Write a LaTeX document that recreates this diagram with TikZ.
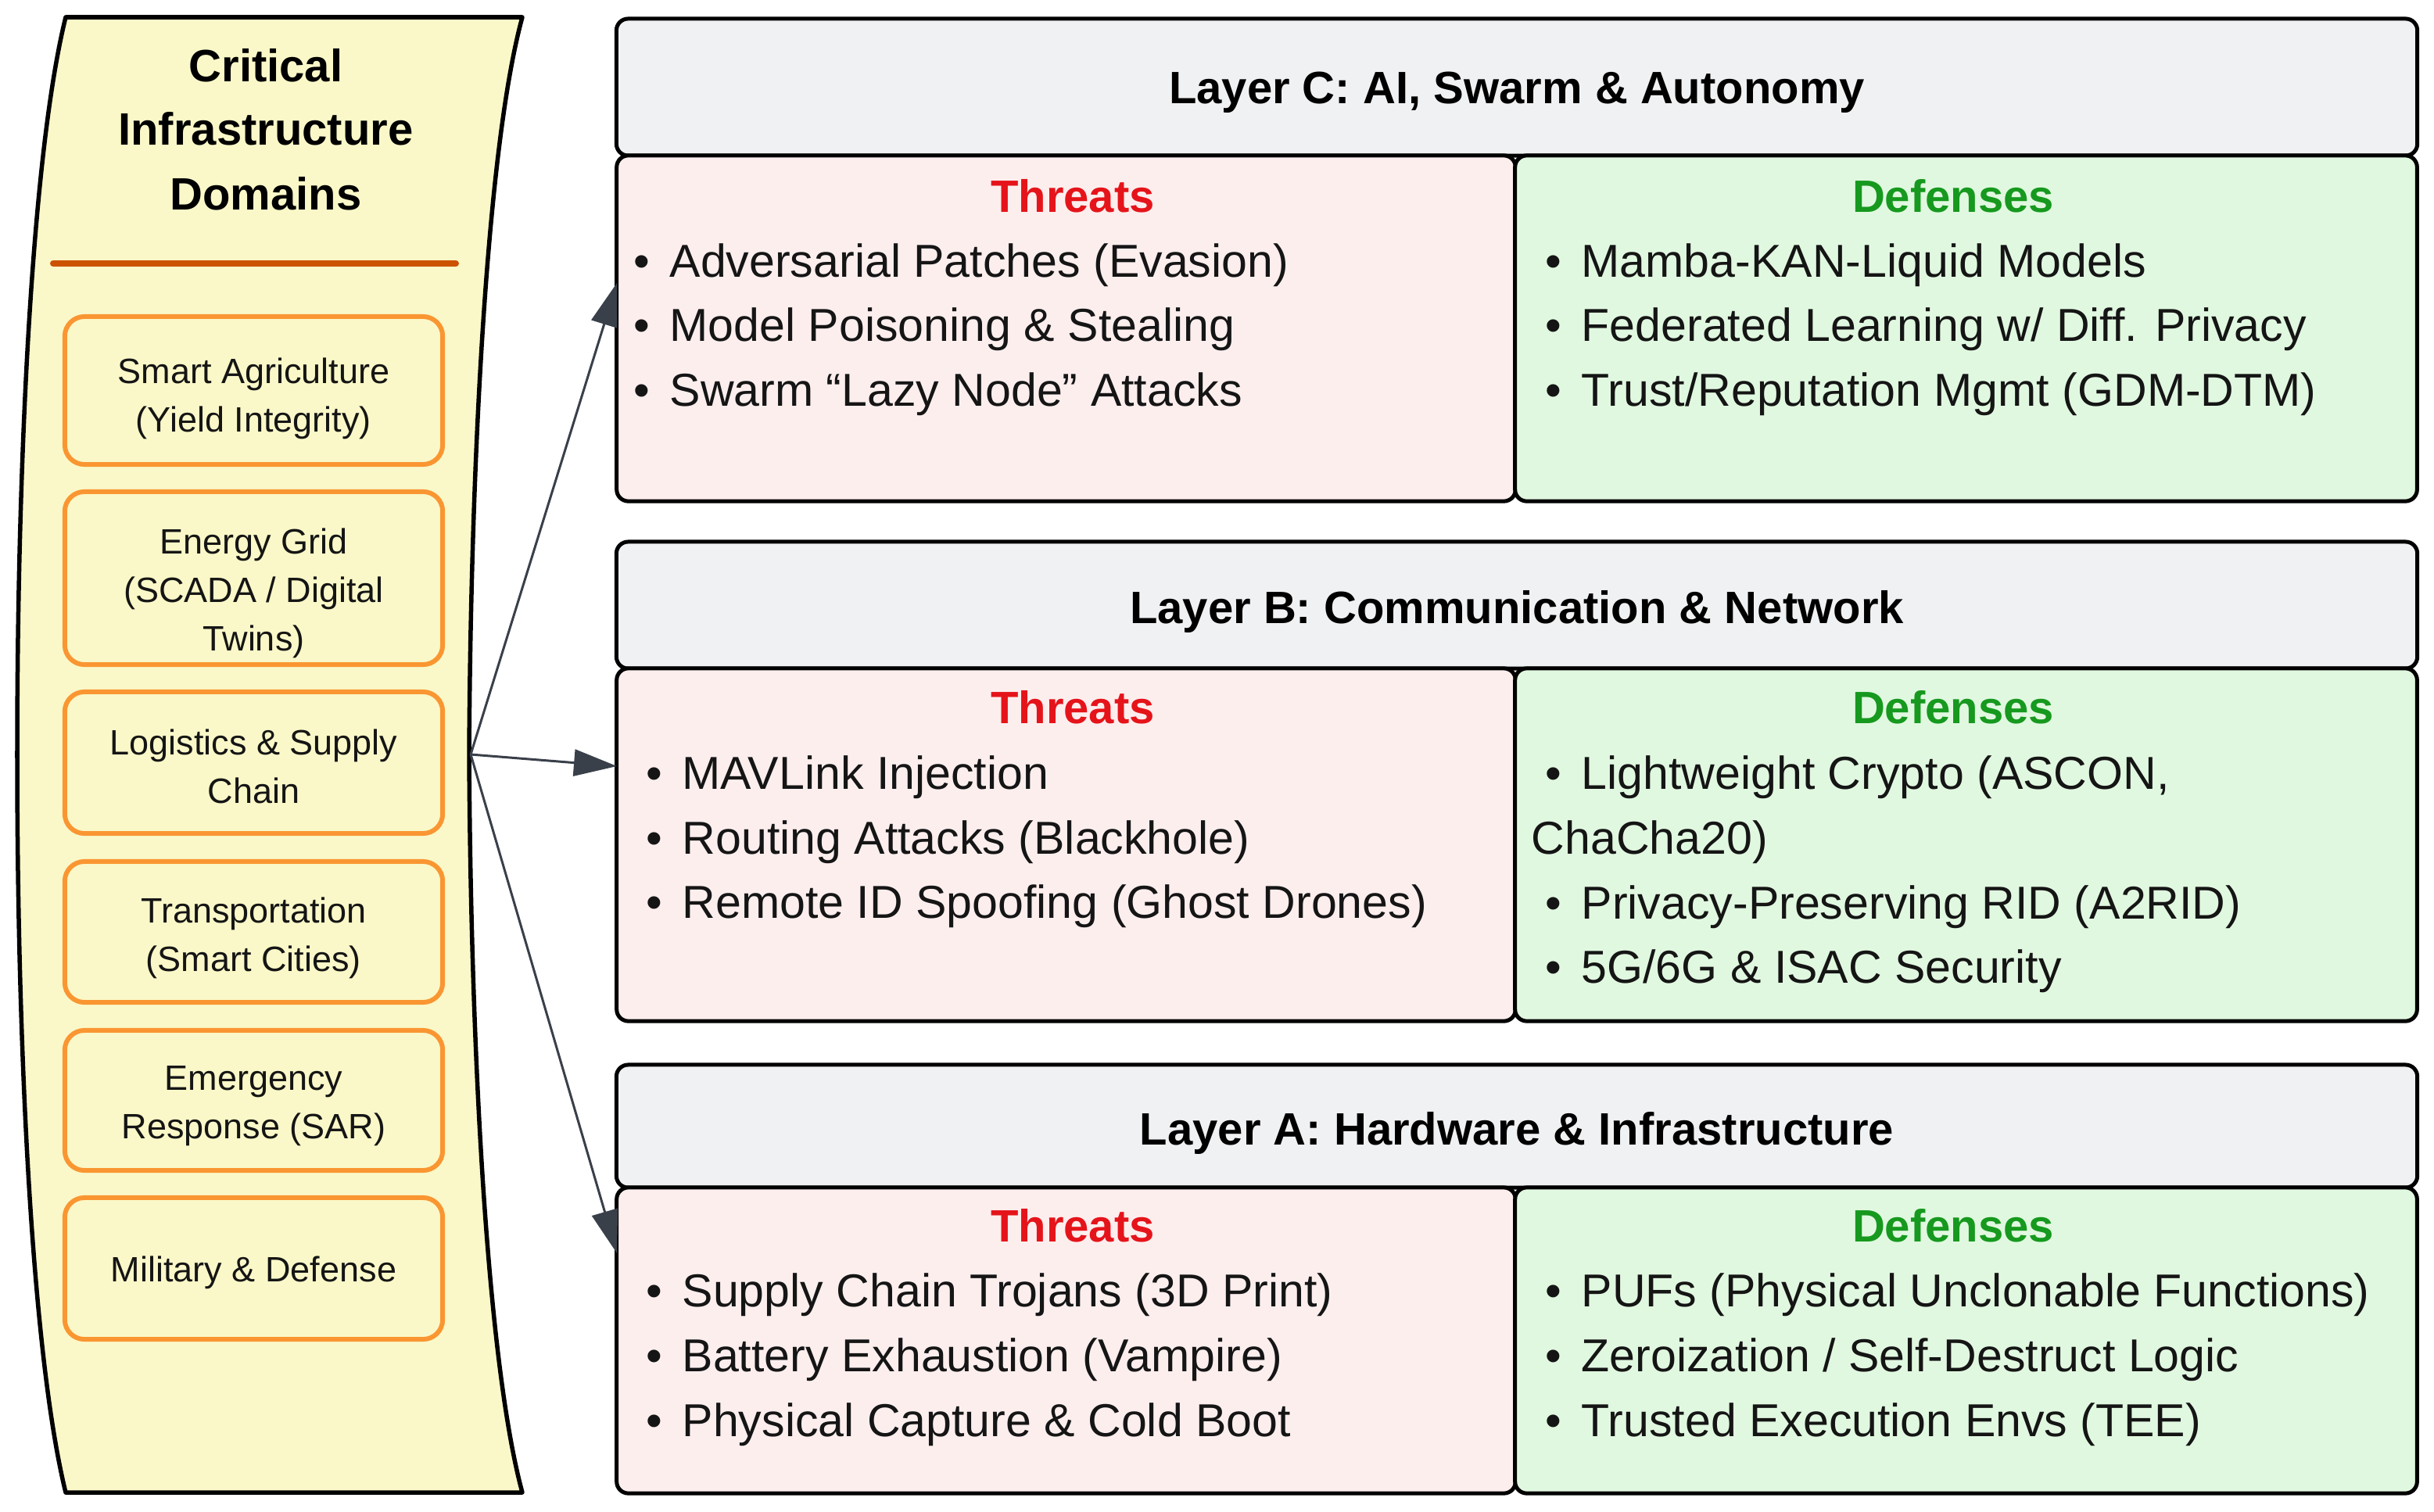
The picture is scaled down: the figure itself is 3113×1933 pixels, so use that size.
\documentclass[tikz,border=0pt]{standalone}
\usepackage{fontspec}
\setmainfont{Liberation Sans}
\usetikzlibrary{arrows.meta}
\definecolor{scrollfill}{HTML}{FAF8C8}
\definecolor{domorange}{HTML}{FA9632}
\definecolor{sepcol}{HTML}{CC5200}
\definecolor{hdrgray}{HTML}{F0F1F3}
\definecolor{thrpink}{HTML}{FDEEEE}
\definecolor{defgreen}{HTML}{E1F8E0}
\definecolor{thrred}{HTML}{E5141A}
\definecolor{defgreentxt}{HTML}{16991E}
\definecolor{arrowgray}{HTML}{3A404A}
\definecolor{bodytxt}{HTML}{151515}
\newcommand\bigfont{\fontsize{16.8pt}{23.6pt}\selectfont}
\newcommand\boldfont{\fontsize{16.5pt}{23.6pt}\selectfont\bfseries}
\newcommand\domfont{\fontsize{12.8pt}{17.64pt}\selectfont}
\newcommand\bul{\makebox[0pt][r]{\textbullet\hspace{0.256cm}}}
\begin{document}
\begin{tikzpicture}[x=0.01cm,y=-0.01cm,
  scroll/.style={draw=black, line width=0.055cm, fill=scrollfill, line join=round},
  dombox/.style={draw=domorange, line width=0.06cm, rounded corners=0.25cm, fill=scrollfill, inner sep=0, minimum width=4.83cm},
  domtxt/.style={align=center, font=\domfont, text=bodytxt, inner sep=0},
  titletxt/.style={anchor=base, font=\boldfont, text=black, inner sep=0},
  hdrbox/.style={draw=black, line width=0.05cm, rounded corners=0.15cm, fill=hdrgray, inner sep=0, minimum width=23.02cm},
  thrbox/.style={draw=black, line width=0.05cm, rounded corners=0.15cm, fill=thrpink, inner sep=0, minimum width=11.49cm},
  defbox/.style={draw=black, line width=0.05cm, rounded corners=0.15cm, fill=defgreen, inner sep=0, minimum width=11.53cm},
  hdrtxt/.style={anchor=base, font=\boldfont, text=black, inner sep=0},
  thrtitle/.style={anchor=base, font=\boldfont, text=thrred, inner sep=0},
  deftitle/.style={anchor=base, font=\boldfont, text=defgreentxt, inner sep=0},
  entry/.style={anchor=base west, font=\bigfont, text=bodytxt, inner sep=0},
  link/.style={draw=arrowgray, line width=0.03cm, -{Triangle[length=0.55cm,width=0.34cm]}},
  sepline/.style={draw=sepcol, line width=0.08cm, line cap=round}
]
\useasboundingbox (0,0) rectangle (3113,1933);
\fill[white] (0,0) rectangle (3113,1933);

% ---------- left scroll ----------
\path[scroll] (84,22) -- (668,22) .. controls (622,190) and (602,600) .. (600,965)
  .. controls (602,1330) and (622,1740) .. (668,1909) -- (84,1909)
  .. controls (40,1730) and (22,1330) .. (22,965)
  .. controls (22,600) and (40,200) .. cycle;
\coordinate (src) at (602,965);

\node[titletxt] (ttl1) at (340,104) {Critical};
\node[titletxt] (ttl2) at (340,185) {Infrastructure};
\node[titletxt] (ttl3) at (340,268) {Domains};
\coordinate (sepL) at (68,337);
\coordinate (sepR) at (583,337);
\draw[sepline] (sepL) -- (sepR);

\node[dombox, minimum height=1.89cm] (d1) at (324.5,499.5) {};
\node[domtxt] (d1t) at (324.5,510) {Smart Agriculture\\(Yield Integrity)};
\node[dombox, minimum height=2.21cm] (d2) at (324.5,739.5) {};
\node[domtxt] (d2t) at (324.5,759) {Energy Grid\\(SCADA / Digital\\Twins)};
\node[dombox, minimum height=1.81cm] (d3) at (324.5,975.5) {};
\node[domtxt] (d3t) at (324.5,980) {Logistics \& Supply\\Chain};
\node[dombox, minimum height=1.80cm] (d4) at (324.5,1192) {};
\node[domtxt] (d4t) at (324.5,1200) {Transportation\\(Smart Cities)};
\node[dombox, minimum height=1.79cm] (d5) at (324.5,1407.5) {};
\node[domtxt] (d5t) at (324.5,1415) {Emergency\\Response (SAR)};
\node[dombox, minimum height=1.81cm] (d6) at (324.5,1622.5) {};
\node[domtxt] (d6t) at (324.5,1628) {Military \& Defense};

% ---------- Layer C ----------
\node[hdrbox, minimum height=1.75cm] (hC) at (1940,111.5) {};
\node[thrbox, minimum height=4.42cm] (tC) at (1363.5,420) {};
\node[defbox, minimum height=4.42cm] (fC) at (2514.5,420) {};
\node[hdrtxt] (hCt) at (1940,132) {Layer C: AI, Swarm \& Autonomy};
\node[thrtitle] (tCt) at (1372,271) {Threats};
\node[deftitle] (fCt) at (2498,271) {Defenses};
\node[entry] (tC1) at (856,354) {\bul Adversarial Patches (Evasion)};
\node[entry] (tC2) at (856,436) {\bul Model Poisoning \& Stealing};
\node[entry] (tC3) at (856,519) {\bul Swarm “Lazy Node” Attacks};
\node[entry] (fC1) at (2022,354) {\bul Mamba-KAN-Liquid Models};
\node[entry] (fC2) at (2022,436) {\bul Federated Learning w/ Diff. Privacy};
\node[entry] (fC3) at (2022,519) {\bul Trust/Reputation Mgmt (GDM-DTM)};

% ---------- Layer B ----------
\node[hdrbox, minimum height=1.62cm] (hB) at (1940,774) {};
\node[thrbox, minimum height=4.51cm] (tB) at (1363.5,1080.5) {};
\node[defbox, minimum height=4.51cm] (fB) at (2514.5,1080.5) {};
\node[hdrtxt] (hBt) at (1940,797) {Layer B: Communication \& Network};
\node[thrtitle] (tBt) at (1372,925) {Threats};
\node[deftitle] (fBt) at (2498,925) {Defenses};
\node[entry] (tB1) at (872,1009) {\bul MAVLink Injection};
\node[entry] (tB2) at (872,1092) {\bul Routing Attacks (Blackhole)};
\node[entry] (tB3) at (872,1174) {\bul Remote ID Spoofing (Ghost Drones)};
\node[entry] (fB1) at (2022,1009) {\bul Lightweight Crypto (ASCON,};
\node[entry] (fB1b) at (1958,1092) {ChaCha20)};
\node[entry] (fB2) at (2022,1175) {\bul Privacy-Preserving RID (A2RID)};
\node[entry] (fB3) at (2022,1257) {\bul 5G/6G \& ISAC Security};

% ---------- Layer A ----------
\node[hdrbox, minimum height=1.57cm] (hA) at (1940,1440.5) {};
\node[thrbox, minimum height=3.91cm] (tA) at (1363.5,1714.5) {};
\node[defbox, minimum height=3.91cm] (fA) at (2514.5,1714.5) {};
\node[hdrtxt] (hAt) at (1940,1464) {Layer A: Hardware \& Infrastructure};
\node[thrtitle] (tAt) at (1372,1588) {Threats};
\node[deftitle] (fAt) at (2498,1588) {Defenses};
\node[entry] (tA1) at (872,1671) {\bul Supply Chain Trojans (3D Print)};
\node[entry] (tA2) at (872,1754) {\bul Battery Exhaustion (Vampire)};
\node[entry] (tA3) at (872,1837) {\bul Physical Capture \& Cold Boot};
\node[entry] (fA1) at (2022,1671) {\bul PUFs (Physical Unclonable Functions)};
\node[entry] (fA2) at (2022,1754) {\bul Zeroization / Self-Destruct Logic};
\node[entry] (fA3) at (2022,1837) {\bul Trusted Execution Envs (TEE)};

% ---------- arrows ----------
\coordinate (inC) at (789,362);
\coordinate (inB) at (789,980);
\coordinate (inA) at (789,1603);
\draw[link] (src) -- (inC);
\draw[link] (src) -- (inB);
\draw[link] (src) -- (inA);
\end{tikzpicture}
\end{document}
